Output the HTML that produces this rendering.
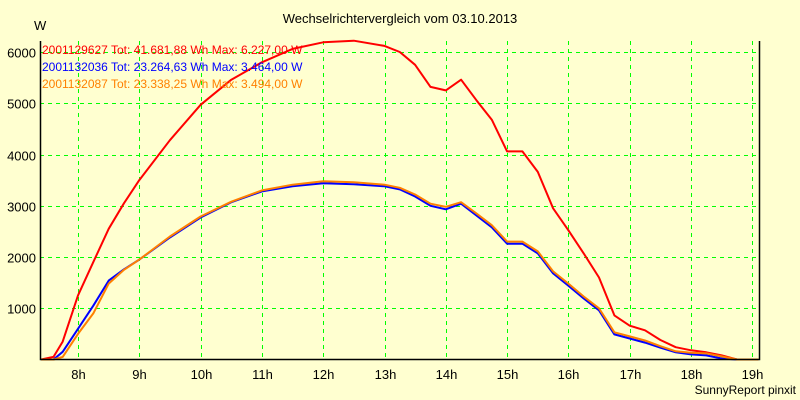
<!DOCTYPE html>
<html><head><meta charset="utf-8"><style>
body{margin:0;background:#FFFFD0;}
svg{display:block;font-family:"Liberation Sans",sans-serif;}
</style></head><body>
<svg id="chart" width="800" height="400" viewBox="0 0 800 400">
<rect x="0" y="0" width="800" height="400" fill="#FFFFD0"/>
<text x="400" y="23" font-size="13" text-anchor="middle" fill="#000">Wechselrichtervergleich vom 03.10.2013</text>
<text x="34" y="30" font-size="13" fill="#000">W</text>
<g id="grid"></g>
<g id="series"></g>
<g id="axes"></g>
<g font-size="12">
<text x="42" y="54" fill="#FF0000">2001129627 Tot: 41.681,88 Wh Max: 6.227,00 W</text>
<text x="42" y="71" fill="#0000FF">2001132036 Tot: 23.264,63 Wh Max: 3.464,00 W</text>
<text x="42" y="88" fill="#FF8000">2001132087 Tot: 23.338,25 Wh Max: 3.494,00 W</text>
</g>
<text x="796" y="394" font-size="12" text-anchor="end" fill="#000">SunnyReport pinxit</text>
</svg>
<script>
const times=[7.4,7.6,7.75,8,8.25,8.5,8.75,9,9.5,10,10.5,11,11.5,12,12.5,13,13.25,13.5,13.75,14,14.25,14.5,14.75,15,15.25,15.5,15.75,16,16.25,16.5,16.75,17,17.25,17.5,17.75,18,18.25,18.5,18.75,19.1];
const redVals=[0,50,350,1250,1900,2550,3050,3500,4280,4970,5460,5800,6060,6190,6220,6120,6000,5750,5320,5250,5460,5060,4680,4060,4060,3660,2950,2520,2070,1600,860,660,570,380,240,180,140,80,0,0];
const blueVals=[0,0,150,600,1050,1540,1760,1950,2380,2770,3070,3280,3380,3440,3420,3380,3320,3180,3000,2930,3040,2810,2580,2260,2260,2070,1680,1440,1190,960,490,410,330,230,140,100,80,20,0,0];
const orangeVals=[0,0,50,500,900,1480,1750,1950,2400,2790,3080,3300,3410,3480,3460,3410,3350,3220,3040,2980,3070,2850,2620,2300,2300,2110,1720,1480,1230,1000,530,450,370,260,160,130,120,60,0,0];
const xTicks=[8,9,10,11,12,13,14,15,16,17,18,19];
const yTicks=[1000,2000,3000,4000,5000,6000];
const L=40,R=759,T=41,B=359;
function xs(h){return 78+(h-8)*61.3;}
function ys(v){return 359.5-v*0.05125;}
const NS="http://www.w3.org/2000/svg";
const grid=document.getElementById('grid'),axes=document.getElementById('axes'),ser=document.getElementById('series');
function mk(t,a,p){const e=document.createElementNS(NS,t);for(const k in a)e.setAttribute(k,a[k]);p.appendChild(e);return e;}
xTicks.forEach(h=>{
 const x=Math.round(xs(h))+0.5;
 const l=mk('line',{x1:x,x2:x,y1:T,y2:B,stroke:'#00FF00','stroke-dasharray':'4,4'},grid);
 
 
 const t=mk('text',{x:x,y:379,'font-size':13,'text-anchor':'middle',fill:'#000'},axes);
 t.textContent=h+'h';
 
 
});
yTicks.forEach(v=>{
 const y=Math.round(ys(v))+0.5;
 const l=mk('line',{x1:L,x2:R,y1:y,y2:y,stroke:'#00FF00','stroke-dasharray':'4,4'},grid);
 
 
 const t=mk('text',{x:36,y:y+5,'font-size':13,'text-anchor':'end',fill:'#000'},axes);
 t.textContent=v;
 
 
});
const frame=mk('path',{d:`M${L+0.5},${T} V${B+0.5} H${R+0.5} V${T}`,fill:'none',stroke:'#000','stroke-width':1.5},axes);


function line(vals,col,name){
 const d=vals.map((v,i)=>(i?'L':'M')+xs(times[i]).toFixed(1)+','+ys(v).toFixed(1)).join(' ');
 const p=mk('path',{d:d,fill:'none',stroke:col,'stroke-width':2,'stroke-linejoin':'round'},ser);
 
 
}
line(redVals,'#FF0000','series-2001129627');
line(blueVals,'#0000FF','series-2001132036');
line(orangeVals,'#FF8000','series-2001132087');
</script>
</body></html>
